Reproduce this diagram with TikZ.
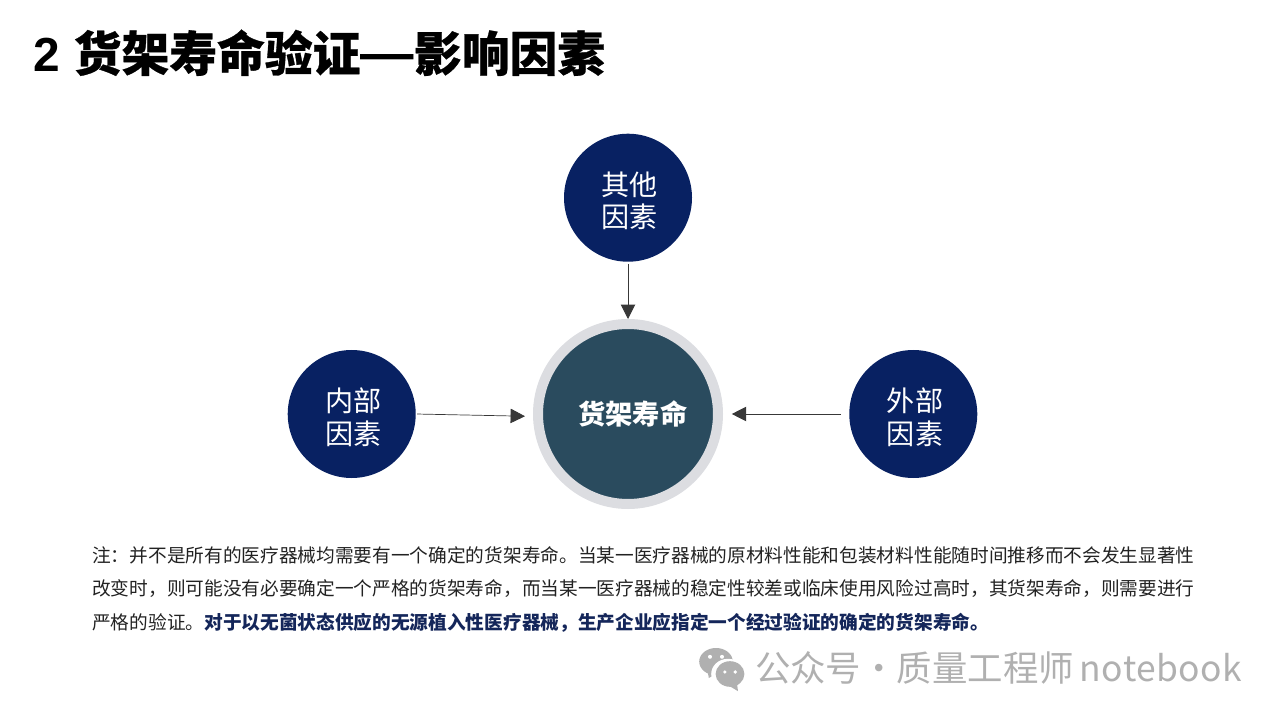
\documentclass[tikz,border=0pt]{standalone}
\usepackage{fontspec}
\setmainfont{Noto Sans CJK SC}
\newfontfamily\latinfont{Liberation Sans}
\usetikzlibrary{positioning,arrows.meta}
\definecolor{navy}{HTML}{082162}
\definecolor{coreblue}{HTML}{2A4B5E}
\definecolor{ringgrey}{HTML}{DCDDE1}
\definecolor{markgrey}{HTML}{B0B0B0}
\definecolor{bodyblack}{HTML}{222222}
\definecolor{boldblue}{HTML}{14265A}
\newcommand{\factorlabel}[2]{\rule{0pt}{21.5pt}\hspace*{2.5pt}#1\\\hspace*{2.5pt}#2}
\begin{document}
\begin{tikzpicture}[
		factor/.style={circle, fill=navy, text=white, minimum size=3.2cm, inner sep=0pt, align=center,
			font=\fontsize{20}{23}\selectfont},
		core/.style={circle, fill=coreblue, draw=ringgrey, line width=0.25cm, text=white, minimum size=4.5cm,
			inner sep=0pt, font=\fontsize{19.4}{22}\selectfont\bfseries},
		link/.style={-{Triangle[length=0.36cm,width=0.36cm]}, draw=bodyblack!90, line width=0.6pt}]
	\useasboundingbox (0,0) rectangle (32,18);
	\node[anchor=west, inner sep=0pt, font=\fontsize{34}{40}\selectfont\bfseries\addfontfeature{FakeBold=0.6}] (title) at (0.84,16.68)
		{{\latinfont 2 }货架寿命验证{\latinfont\fontsize{38}{40}\selectfont —}影响因素};
	\node[core] (shelf) at (15.7,7.65) {\hspace*{7pt}货架寿命};
	\node[factor, above=1.425cm of shelf] (other) {\factorlabel{其他}{因素}};
	\node[factor, left=2.925cm of shelf] (inner) {\factorlabel{内部}{因素}};
	\node[factor, right=3.15cm of shelf] (outer) {\factorlabel{外部}{因素}};
	\draw[link, line width=0.7pt, shorten <=0.05cm] (other) -- (shelf);
	\draw[link, line width=0.5pt, shorten >=0.2cm, shorten <=0.03cm] (inner.east) -- ([yshift=-0.06cm]shelf.west);
	\draw[link, shorten >=0.22cm, shorten <=0.2cm] (outer) -- (shelf);
	\node[anchor=north west, inner sep=0pt, align=left, text=bodyblack, font=\fontsize{13.29}{24}\selectfont] (note) at (2.3,4.35) {注：并不是所有的医疗器械均需要有一个确定的货架寿命。当某一医疗器械的原材料性能和包装材料性能随时间推移而不会发生显著性\\
		改变时，则可能没有必要确定一个严格的货架寿命，而当某一医疗器械的稳定性较差或临床使用风险过高时，其货架寿命，则需要进行\\
		严格的验证。{\bfseries\color{boldblue}对于以无菌状态供应的无源植入性医疗器械，生产企业应指定一个经过验证的确定的货架寿命。}};
	% watermark
	\fill[markgrey] (17.9,1.46) ellipse (0.42cm and 0.34cm);
	\fill[markgrey] (17.72,1.05) -- (17.68,1.28) -- (18,1.2) -- cycle;
	\fill[white] (18.2,1.15) ellipse (0.42cm and 0.38cm);
	\fill[markgrey] (18.25,1.15) ellipse (0.36cm and 0.32cm);
	\fill[markgrey] (18.45,0.72) -- (18.42,0.95) -- (18.15,0.9) -- cycle;
	\fill[white] (17.75,1.58) circle (0.05cm) (18.05,1.58) circle (0.05cm) (18.12,1.2) circle (0.045cm) (18.38,1.2) circle (0.045cm);
	\node[anchor=west, inner sep=0pt, text=markgrey, font=\fontsize{25.2}{28}\selectfont] (mark) at (18.87,1.3) {公众号·质量工程师\hspace{4pt}{\addfontfeature{LetterSpace=1.5}notebook}};
\end{tikzpicture}
\end{document}
